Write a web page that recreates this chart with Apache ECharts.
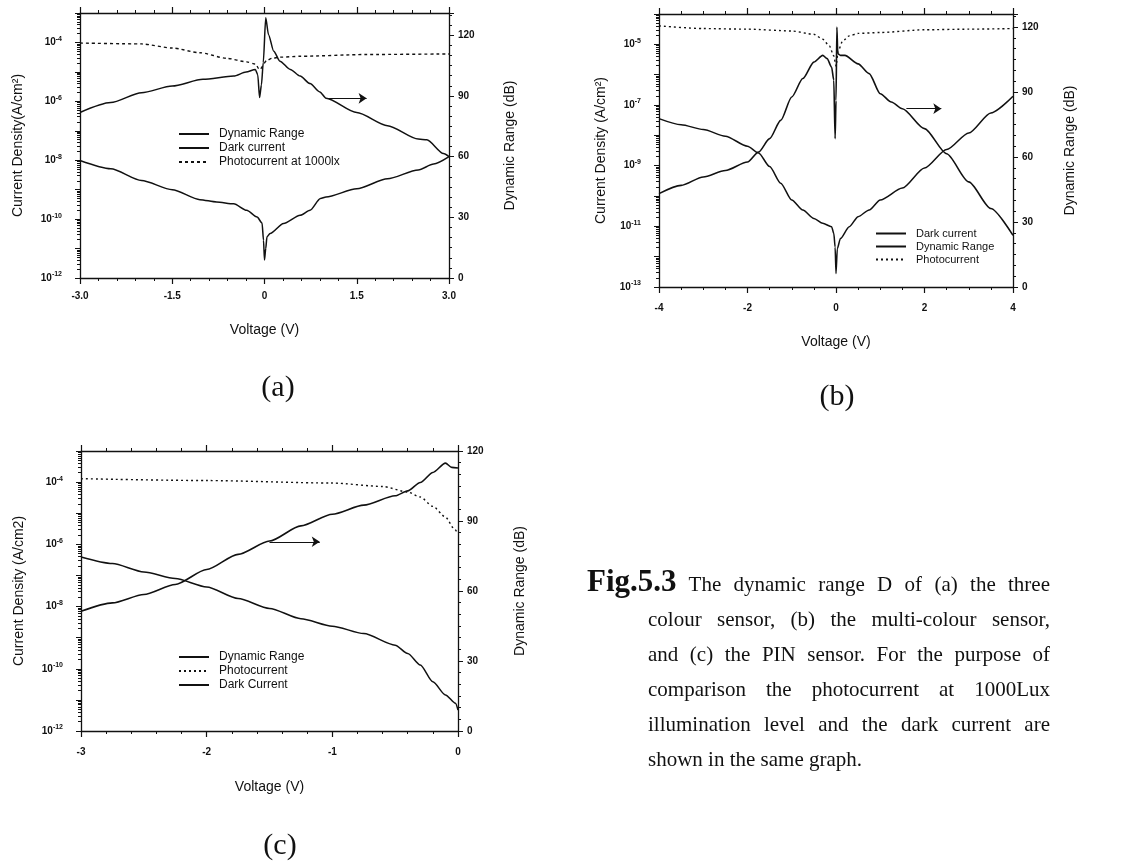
<!DOCTYPE html>
<html><head><meta charset="utf-8">
<script src="https://cdn.jsdelivr.net/npm/echarts@6/dist/echarts.min.js"></script>
<style>html,body{margin:0;padding:0;background:#fff}#c{width:1125px;height:863px}</style>
</head><body><div id="c"></div>
<script>
// ================= DATA =================
// Current densities are stored as log10(J [A/cm²]); dynamic range in dB.
// ---- (a) three colour sensor ----
const drA_V  = [-3.0,-2.5,-2.0,-1.5,-1.0,-0.5,-0.3,-0.15,-0.11,-0.08,-0.05,-0.02,0.02,0.065,0.15,0.25,0.42,0.58,0.74,0.9,1.0,1.5,2.0,2.5,2.64,2.91,3.0];
const drA_dB = [81.8,86.7,91.6,94.9,98.2,99.8,101.8,103.1,100.5,89.2,95.5,106.5,128.6,120.3,112.1,107.2,103.1,99.8,96.1,92.0,88.9,81.8,75.3,68.7,68.3,61.5,60.0];
const darkA_V    = [-3.0,-2.5,-2.0,-1.5,-1.05,-0.78,-0.5,-0.29,-0.12,-0.04,-0.016,0.0,0.02,0.04,0.09,0.31,0.58,0.74,0.91,1.0,1.5,2.0,2.5,2.75,3.0];
const darkA_logJ = [-8.01,-8.29,-8.69,-9.0,-9.34,-9.42,-9.48,-9.70,-9.93,-10.13,-10.72,-11.39,-11.0,-10.6,-10.49,-10.15,-9.87,-9.70,-9.30,-9.25,-8.97,-8.63,-8.33,-8.13,-7.88];
const photoA_V    = [-3.0,-2.0,-1.5,-1.05,-0.61,-0.29,-0.15,-0.08,0.04,0.12,0.25,0.58,1.66,3.0];
const photoA_logJ = [-4.02,-4.05,-4.19,-4.35,-4.54,-4.66,-4.73,-4.92,-4.61,-4.54,-4.50,-4.47,-4.41,-4.39];
const arrowA_V = [1.03, 1.66], arrowA_dB = 88.8;

// ---- (b) multi-colour sensor ----
const drB_V  = [-4.0,-3.5,-3.0,-2.5,-2.0,-1.75,-1.5,-1.25,-1.0,-0.75,-0.5,-0.3,-0.2,-0.1,-0.05,-0.02,0.0,0.02,0.04,0.1,0.2,0.5,0.75,1.0,1.25,1.5,2.0,2.5,3.0,3.5,4.0];
const drB_dB = [43.1,46.9,50.8,53.8,57.7,62.3,68.5,76.9,87.7,96.2,103.8,106.9,105.4,101.5,95.4,68.5,86.0,120.0,107.7,106.9,106.9,103.0,98.5,89.2,85.4,82.3,73.1,61.5,48.5,36.2,23.8];
const darkB_V    = [-4.0,-3.5,-3.0,-2.5,-2.0,-1.75,-1.5,-1.25,-1.0,-0.75,-0.5,-0.3,-0.1,-0.05,-0.02,0.0,0.03,0.1,0.3,0.5,0.75,1.0,1.5,2.0,2.5,3.0,3.5,4.0];
const darkB_logJ = [-7.45,-7.65,-7.81,-8.03,-8.36,-8.58,-9.03,-9.58,-10.13,-10.46,-10.74,-10.90,-11.01,-11.23,-11.68,-12.56,-11.73,-11.40,-11.01,-10.68,-10.46,-10.13,-9.74,-9.08,-8.47,-7.92,-7.26,-6.71];
const photoB_V    = [-4.0,-3.0,-2.0,-1.0,-0.5,-0.3,-0.15,-0.05,0.0,0.05,0.15,0.3,0.5,1.0,2.0,3.0,4.0];
const photoB_logJ = [-4.39,-4.48,-4.50,-4.56,-4.67,-4.83,-5.05,-5.38,-5.72,-5.22,-4.89,-4.72,-4.64,-4.61,-4.52,-4.50,-4.48];
const arrowB_V = [1.59, 2.38], arrowB_dB = 82.3;

// ---- (c) PIN sensor ----
const drC_V  = [-3.0,-2.75,-2.5,-2.25,-2.0,-1.75,-1.5,-1.25,-1.0,-0.75,-0.5,-0.4,-0.3,-0.2,-0.1,-0.05,0.0];
const drC_dB = [51.3,54.9,58.5,62.8,69.2,75.7,81.4,87.9,92.9,96.8,100.8,102.9,106.5,110.8,114.8,113.0,112.7];
const darkC_V    = [-3.0,-2.75,-2.5,-2.25,-2.0,-1.75,-1.5,-1.25,-1.0,-0.75,-0.5,-0.4,-0.3,-0.2,-0.1,-0.02,0.0];
const darkC_logJ = [-6.41,-6.62,-6.89,-7.10,-7.37,-7.74,-8.06,-8.39,-8.63,-8.87,-9.24,-9.51,-9.88,-10.42,-10.84,-11.11,-11.33];
const photoC_V    = [-3.0,-2.0,-1.0,-0.6,-0.4,-0.3,-0.2,-0.1,-0.03,0.0];
const photoC_logJ = [-3.89,-3.95,-4.03,-4.14,-4.32,-4.48,-4.78,-5.12,-5.50,-5.66];
const arrowC_V = [-1.5, -1.1], arrowC_dB = 81.1;

// ---- text ----
const legendA = ['Dynamic Range', 'Dark current', 'Photocurrent at 1000lx'];
const legendB = ['Dark current', 'Dynamic Range', 'Photocurrent'];
const legendC = ['Dynamic Range', 'Photocurrent', 'Dark Current'];
const captionBold = 'Fig.5.3';
const captionLines = [
  'The dynamic range D of  (a) the three',
  'colour sensor, (b) the multi-colour sensor,',
  'and (c) the PIN sensor. For the purpose of',
  'comparison the photocurrent at 1000Lux',
  'illumination level and the dark current are',
  'shown in the same graph.'
];

// ================= RENDERING =================
const SANS = '"Liberation Sans", Arial, sans-serif';
const SERIF = '"Liberation Serif", "Times New Roman", serif';
const INK = '#111';
// log values are plotted in units of 1e-13 A/cm² so the log scale's tick rounding stays exact
const DEC_SHIFT = 13;
const toPlot = l => Math.pow(10, l + DEC_SHIFT);
const linPairs = (xs, ys) => xs.map((x, i) => [x, ys[i]]);
const logPairs = (xs, ls) => xs.map((x, i) => [x, toPlot(ls[i])]);

const tickLabelStyle = { color: INK, fontFamily: SANS, fontSize: 10, fontWeight: 'bold' };
const nameStyle = { color: INK, fontFamily: SANS, fontSize: 14 };
const axisLineStyle = { show: true, onZero: false, lineStyle: { color: INK, width: 1.3 } };

function xAxes(gi, min, max, interval, minorSplit, margin, nameGap, fmt) {
  return [{
    type: 'value', gridIndex: gi, position: 'bottom', min, max, interval,
    axisLine: axisLineStyle, splitLine: { show: false },
    axisTick: { show: true, length: 6, lineStyle: { color: INK, width: 1.2 } },
    minorTick: { show: true, splitNumber: minorSplit, length: 3, lineStyle: { color: INK } },
    axisLabel: Object.assign({ margin, formatter: fmt }, tickLabelStyle),
    name: 'Voltage (V)', nameLocation: 'middle', nameGap, nameTextStyle: nameStyle
  }, {
    type: 'value', gridIndex: gi, position: 'top', min, max, interval,
    axisLine: axisLineStyle, splitLine: { show: false },
    axisTick: { show: true, length: 6, lineStyle: { color: INK, width: 1.2 } },
    minorTick: { show: true, splitNumber: minorSplit, length: 3, lineStyle: { color: INK } },
    axisLabel: { show: false }
  }];
}
function logAxis(gi, lo, hi, parity, name, nameGap) {
  return {
    type: 'log', logBase: 10, gridIndex: gi, position: 'left', min: toPlot(lo), max: toPlot(hi),
    axisLine: axisLineStyle, splitLine: { show: false },
    axisTick: { show: true, length: 5, lineStyle: { color: INK } },
    minorTick: { show: true, splitNumber: 9, length: 3, lineStyle: { color: INK } },
    axisLabel: {
      margin: 18,
      formatter: v => { const e = Math.round(Math.log10(v)) - DEC_SHIFT; return Math.abs(e % 2) === parity ? '{b|10}{s|' + e + '}' : ''; },
      rich: {
        b: { fontFamily: SANS, fontSize: 10, fontWeight: 'bold', color: INK },
        s: { fontFamily: SANS, fontSize: 7, fontWeight: 'bold', color: INK, padding: [0, 0, 7, 0] }
      }
    },
    name, nameLocation: 'middle', nameRotate: 90, nameGap, nameTextStyle: nameStyle
  };
}
function dbAxis(gi, max, nameGap) {
  return {
    type: 'value', gridIndex: gi, position: 'right', min: 0, max, interval: 30,
    axisLine: axisLineStyle, splitLine: { show: false },
    axisTick: { show: true, length: 5, lineStyle: { color: INK } },
    minorTick: { show: true, splitNumber: 6, length: 3, lineStyle: { color: INK } },
    axisLabel: Object.assign({ margin: 9, formatter: v => (v % 30 === 0 ? String(v) : '') }, tickLabelStyle),
    name: 'Dynamic Range (dB)', nameLocation: 'middle', nameRotate: 90, nameGap, nameTextStyle: nameStyle
  };
}
function line(name, xi, yi, data, width, type) {
  return {
    type: 'line', name, xAxisIndex: xi, yAxisIndex: yi, data,
    symbol: 'none', showSymbol: false, smooth: 0.25, smoothMonotone: 'x',
    lineStyle: { color: INK, width, type: type || 'solid' }, itemStyle: { color: INK },
    silent: true, animation: false
  };
}
function arrow(xs, y) {
  return {
    silent: true, animation: false, symbol: ['none', 'arrow'], symbolSize: 8,
    label: { show: false }, lineStyle: { color: INK, width: 1.1, type: 'solid' },
    emphasis: { disabled: true },
    data: [[{ coord: [xs[0], y] }, { coord: [xs[1], y] }]]
  };
}
const fmtA = v => (v === 0 ? '0' : v.toFixed(1));
const fmtInt = v => String(v);

// legends (line sample only, no marker)
function legend(data, left, top, fs) {
  return {
    data, left, top, orient: 'vertical', itemWidth: 30, itemHeight: 10, itemGap: 2,
    selectedMode: false,
    itemStyle: { opacity: 0 },
    textStyle: { color: INK, fontFamily: SANS, fontSize: fs, padding: [0, 0, 0, 5] }
  };
}

// caption (justified like the printed text)
function captionGraphics() {
  const ctx = document.createElement('canvas').getContext('2d');
  const bodyFs = 21, boldFs = 31;
  const bodyFont = bodyFs + 'px ' + SERIF, boldFont = 'bold ' + boldFs + 'px ' + SERIF;
  const xFig = 587, xBody = 648, xRight = 1050, base0 = 592, lh = 35;
  const els = [];
  captionLines.forEach((txt, i) => {
    const base = base0 + i * lh;
    let x0 = xBody;
    if (i === 0) {
      els.push({ type: 'text', x: xFig, y: base - 0.3 * boldFs, style: { text: captionBold, font: boldFont, fill: INK, textVerticalAlign: 'middle', verticalAlign: 'middle' } });
      ctx.font = boldFont;
      x0 = xFig + ctx.measureText(captionBold).width + 12;
    }
    ctx.font = bodyFont;
    const words = txt.split(/\s+/);
    const ws = words.map(w => ctx.measureText(w).width);
    const total = ws.reduce((a, b) => a + b, 0);
    const justify = i < captionLines.length - 1;
    const gap = justify ? (xRight - x0 - total) / (words.length - 1) : ctx.measureText(' ').width;
    let x = x0;
    words.forEach((w, k) => {
      els.push({ type: 'text', x, y: base - 0.3 * bodyFs, style: { text: w, font: bodyFont, fill: INK, textVerticalAlign: 'middle', verticalAlign: 'middle' } });
      x += ws[k] + gap;
    });
  });
  return els;
}
function panelLabel(t, cx, cy) {
  return { type: 'text', x: cx, y: cy, style: { text: t, font: '30px ' + SERIF, fill: INK, textAlign: 'center', align: 'center', textVerticalAlign: 'middle', verticalAlign: 'middle' } };
}

const option = {
  animation: false,
  backgroundColor: '#fff',
  grid: [
    { left: 80, top: 13, width: 369, height: 265 },
    { left: 659, top: 14, width: 354, height: 273 },
    { left: 81, top: 451, width: 377, height: 280 }
  ],
  xAxis: [].concat(
    xAxes(0, -3, 3, 1.5, 5, 13, 45, fmtA),
    xAxes(1, -4, 4, 2, 4, 16, 48, fmtInt),
    xAxes(2, -3, 0, 1, 5, 16, 49, fmtInt)
  ),
  yAxis: [
    logAxis(0, -12, -3, 0, 'Current Density(A/cm²)', 55),
    dbAxis(0, 131, 54),
    logAxis(1, -13, -4, 1, 'Current Density (A/cm²)', 51),
    dbAxis(1, 126, 50),
    logAxis(2, -12, -3, 0, 'Current Density (A/cm2)', 55),
    dbAxis(2, 120, 55)
  ],
  legend: [legend(legendA, 173, 123, 12), legend(legendB, 870, 223, 11), legend(legendC, 173, 646, 12)],
  series: [
    Object.assign(line('Dynamic Range', 0, 1, linPairs(drA_V, drA_dB), 1.5), { markLine: arrow(arrowA_V, arrowA_dB) }),
    line('Dark current', 0, 0, logPairs(darkA_V, darkA_logJ), 1.5),
    line('Photocurrent at 1000lx', 0, 0, logPairs(photoA_V, photoA_logJ), 1.4, [3, 3]),

    line('Dark current', 2, 2, logPairs(darkB_V, darkB_logJ), 1.5),
    Object.assign(line('Dynamic Range', 2, 3, linPairs(drB_V, drB_dB), 1.6), { markLine: arrow(arrowB_V, arrowB_dB) }),
    line('Photocurrent', 2, 2, logPairs(photoB_V, photoB_logJ), 1.4, [2, 3]),

    Object.assign(line('Dynamic Range', 4, 5, linPairs(drC_V, drC_dB), 1.6), { markLine: arrow(arrowC_V, arrowC_dB) }),
    line('Photocurrent', 4, 4, logPairs(photoC_V, photoC_logJ), 1.4, [2, 3]),
    line('Dark Current', 4, 4, logPairs(darkC_V, darkC_logJ), 1.5)
  ],
  graphic: { elements: [panelLabel('(a)', 278, 388), panelLabel('(b)', 837, 397), panelLabel('(c)', 280, 846)].concat(captionGraphics()) }
};

const chart = echarts.init(document.getElementById('c'), null, { renderer: 'canvas' });
chart.setOption(option);
</script>
</body></html>
